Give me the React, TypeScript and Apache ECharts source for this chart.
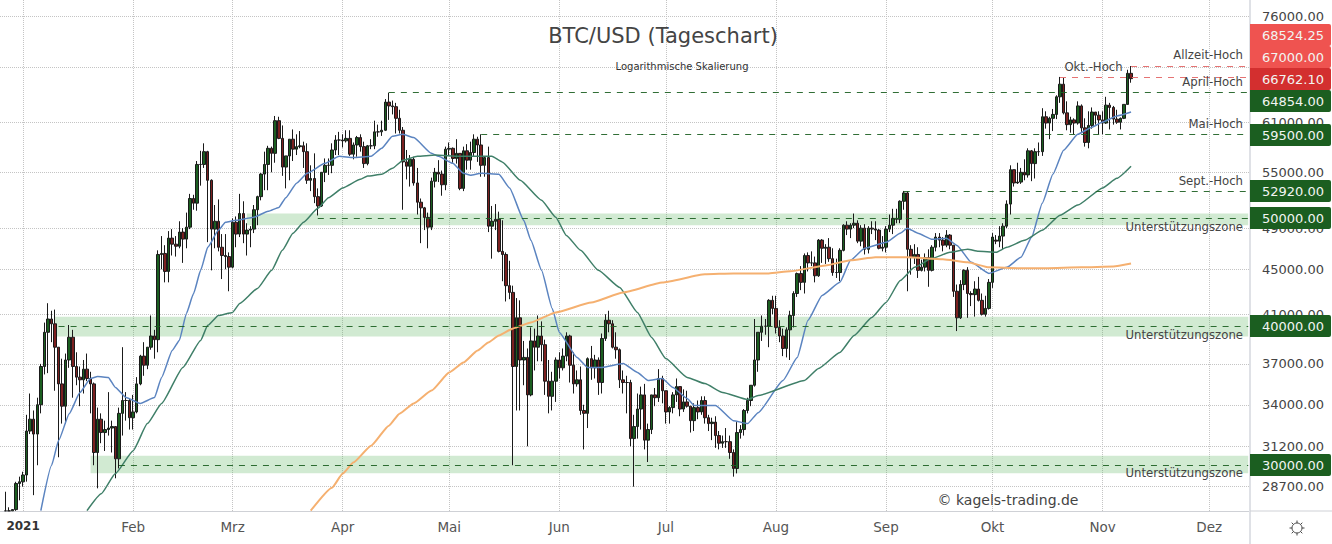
import React, { useEffect, useRef } from "react";
import * as echarts from "echarts";

const FONT = "'DejaVu Sans', sans-serif";

// [open, close, low, high]
const dec20 = [["-","-","-","-"],[27300,27300,27300,28400],[27300,27300,27300,27500],[27300,27370,27300,27400],[27370,28890,27300,28990],[28890,28990,27900,29300]];
const jan21 = [[28990,29400,28700,29600],[29400,32200,29000,33300],[32200,33000,32000,34800],[33000,32000,28200,33600],[32000,34000,30000,34500],[34000,36800,33400,37000],[36800,39500,36200,40300],[39500,40600,36300,41950],[40600,40200,38700,41300],[40200,38300,35000,41400],[38300,35500,30500,38300],[35500,33900,32700,37400],[33900,37300,32700,37800],[37300,39100,36700,40100],[39100,36800,34500,39700],[36800,36000,35400,37900],[36000,35800,33900,36800],[35800,36600,34800,37300],[36600,35900,35700,37800],[35900,35500,33400,36400],[35500,30800,30000,35600],[30800,33000,28600,33800],[33000,32100,31400,33400],[32100,32300,30900,32900],[32300,32400,31900,34900],[32400,32500,30800,32900],[32500,30400,29200,32500],[30400,33400,29800,33800],[33400,34300,31900,38300],[34300,34300,32900,34900],[34300,33100,32300,34400]];
const feb21 = [[33100,33500,32300,34700],[33500,35500,33400,36000],[35500,37600,35400,37700],[37600,36900,36100,38700],[36900,38300,36600,38300],[38300,39200,38100,40900],[39200,38900,37400,39700],[38900,46400,37900,46800],[46400,46500,45000,48200],[46500,44800,43800,47300],[44800,48000,43800,48700],[48000,47400,46300,48900],[47400,47200,46200,48200],[47200,48600,47000,49700],[48600,47900,45600,49000],[47900,49100,47000,50600],[49100,52100,48900,52600],[52100,51600,50900,52500],[51600,55900,50800,56300],[55900,55900,53500,57500],[55900,57400,55500,58400],[57400,54100,47600,57500],[54100,48900,44900,54200],[48900,49700,47000,51400],[49700,47100,46700,52000],[47100,46300,44100,48400],[46300,46200,45000,48400],[46200,45200,43000,46600]];
const mar21 = [[45200,49600,45100,50000],[49600,48400,47100,50200],[48400,50500,48100,52600],[50500,48400,47500,51800],[48400,48800,46300,49500],[48800,48900,47100,49200],[48900,50900,48500,51400],[50900,52300,49300,52400],[52300,54800,51900,54900],[54800,55900,53000,57400],[55900,57800,53000,58100],[57800,57200,55000,58000],[57200,61200,56100,61800],[61200,59000,58900,61700],[59000,55600,54600,60600],[55600,56900,53200,56900],[56900,58900,54100,58900],[58900,57700,56300,60100],[57700,58000,57000,59500],[58000,58100,57800,59900],[58100,57400,55500,58600],[57400,54100,53700,58400],[54100,54300,52900,55800],[54300,52300,51600,57200],[52300,51300,50300,53200],[51300,55000,51200,55000],[55000,55800,53900,56600],[55800,55800,54700,56600],[55800,57600,54900,58400],[57600,58800,57000,59400],[58800,58800,57000,59800]];
const apr21 = [[58800,58700,57900,59500],[58700,59000,58500,60000],[59000,57100,56900,60000],[57100,58200,56500,58500],[58200,59100,56800,59300],[59100,58000,57400,59500],[58000,56000,55500,58600],[56000,58100,55800,58200],[58100,58100,57700,58900],[58100,59800,57700,61200],[59800,59800,59200,60700],[59800,60000,59300,61200],[60000,63600,59900,64000],[63600,63100,61300,64854],[63100,63000,62000,63800],[63000,61500,59600,63500],[61500,60000,59600,62600],[60000,56200,50900,60400],[56200,55700,54200,57600],[55700,56500,53400,57000],[56500,53800,53500,56800],[53800,51700,50400,55500],[51700,51100,47500,52100],[51100,50100,48800,51200],[50100,49100,47000,50600],[49100,54000,48800,54400],[54000,55000,53300,55500],[55000,54800,53900,56400],[54800,53600,52400,55200],[53600,57700,53000,58000]];
const may21 = [[57700,57800,56900,58500],[57800,56600,56100,57900],[56600,57200,56000,58900],[57200,53200,53000,57200],[53200,57500,52900,58000],[57500,56400,55300,58300],[56400,57300,55300,58600],[57300,58900,56900,59500],[58900,58200,56200,59200],[58200,55800,54500,59500],[55800,56700,54500,56800],[56700,49200,48600,58000],[49200,49700,46000,51300],[49700,49900,48800,51500],[49900,46700,46600,50700],[46700,46400,43900,49800],[46400,43500,42100,46600],[43500,42900,42300,45800],[42900,36800,30000,43500],[36800,40700,33600,42400],[40700,37300,33600,42200],[37300,37500,35400,38800],[37500,34700,31200,38200],[34700,38800,34600,39900],[38800,38300,36500,39800],[38300,39200,37200,40900],[39200,38500,37200,40400],[38500,35700,34700,38900],[35700,34600,33400,37300],[34600,35700,33600,36400],[35700,37300,34200,37500]];
const jun21 = [[37300,36700,35900,37900],[36700,37600,36500,38200],[37600,39200,37200,39500],[39200,36900,35600,39300],[36900,35500,34800,37900],[35500,35800,35300,36500],[35800,33600,33300,36800],[33600,33400,31000,34000],[33400,37400,32400,37500],[37400,36700,35800,38400],[36700,37300,35900,37700],[37300,35600,34700,37500],[35600,39000,34800,39400],[39000,40500,38800,41000],[40500,40200,39500,41300],[40200,38300,38200,40500],[38300,38100,37400,39500],[38100,35800,35200,38200],[35800,35600,34800,36500],[35600,35600,33400,36100],[35600,31700,31200,35800],[31700,32500,28700,33300],[32500,33700,31700,34800],[33700,34700,32300,35300],[34700,31600,31000,35500],[31600,32300,30200,32700],[32300,34700,32000,34700],[34700,34500,33900,35200],[34500,35900,34200,36600],[35900,35000,34100,36100]];
const jul21 = [[35000,33500,32700,35000],[33500,33800,32700,33900],[33800,34700,33400,34900],[34700,35300,34200,35900],[35300,33700,33200,35300],[33700,34200,33500,35100],[34200,33900,33800,35000],[33900,32900,32100,33900],[32900,33800,32200,34100],[33800,33500,33000,34300],[33500,34300,33300,34600],[34300,33100,32700,34600],[33100,32700,32200,33300],[32700,32800,31600,33100],[32800,31900,31100,33200],[31900,31400,31000,32200],[31400,31500,31100,31900],[31500,31500,31100,32400],[31500,30800,30400,31900],[30800,29800,29300,31000],[29800,32100,29500,32800],[32100,32300,31700,32600],[32300,33600,31900,33700],[33600,34300,33400,34500],[34300,35400,33900,35400],[35400,37300,35300,40600],[37300,39500,36400,39500],[39500,40000,38800,40900],[40000,40000,39300,40600],[40000,42200,38300,42300],[42200,41500,41000,42600]];
const aug21 = [[41500,39900,39400,42600],[39900,39200,38700,40500],[39200,38200,37600,39800],[38200,39700,37500,39900],[39700,40900,37300,41300],[40900,42800,39900,43000],[42800,44600,42500,44700],[44600,43800,43100,45300],[43800,46300,42800,46500],[46300,45600,44800,46600],[45600,45600,45300,46700],[45600,44400,43800,46200],[44400,47800,44300,47900],[47800,47000,45600,47900],[47000,47100,45500,47400],[47100,46000,45700,48000],[46000,44700,44400,47000],[44700,44700,44200,46000],[44700,46800,43900,47000],[46800,49300,46700,49400],[49300,48900,48300,49700],[48900,49300,48000,49500],[49300,49500,49000,50500],[49500,47700,47500,49800],[47700,49000,47200,49300],[49000,46900,46400,49400],[46900,49000,46500,49200],[49000,48900,48400,49700],[48900,48800,47800,49700],[48800,47000,46900,48900],[47000,47100,46700,48200]];
const sep21 = [[47100,48900,46600,49200],[48900,49300,48600,50400],[49300,50000,48400,51000],[50000,49900,49500,51000],[49900,51800,49500,51900],[51800,52700,50900,52920],[52700,46900,43000,52900],[46900,46100,44500,47300],[46100,46400,45500,47400],[46400,44900,44200,47100],[44900,45200,44800,45900],[45200,46100,44800,46500],[46100,44900,43400,46900],[44900,47100,44800,47300],[47100,48100,46700,48500],[48100,47800,47100,48500],[47800,47300,46700,48100],[47300,48300,47100,48800],[48300,47300,46900,48400],[47300,43000,42500,47300],[43000,40700,39600,43600],[40700,43600,40600,44000],[43600,44900,43100,45000],[44900,42800,40700,45200],[42800,42700,41700,43000],[42700,43200,40800,43900],[43200,42200,42100,44300],[42200,41000,40900,42800],[41000,41500,40800,42600],[41500,43800,41400,44100]];
const oct21 = [[43800,48100,43300,48500],[47800,47700,47400,48300],[47700,48200,47100,49200],[48200,49200,46900,49500],[49200,51500,49000,51900],[51500,55300,50400,55800],[55300,53800,53400,55300],[53800,53900,53700,56100],[53900,55000,53700,55500],[55000,54700,54100,56500],[54700,57500,54400,57800],[57500,56000,54000,57600],[56000,57400,54300,57800],[57400,57400,56900,58500],[57400,61700,56900,62800],[61700,60900,60200,62400],[60900,61500,58900,61700],[61500,62000,59900,62700],[62000,64300,61400,64500],[64300,66000,63500,67000],[66000,62200,62000,66900],[62200,60700,60000,63700],[60700,61300,59700,61700],[61300,60900,59500,61500],[60900,63100,60700,63700],[63100,60300,59800,63300],[60300,58500,58000,61500],[58500,60600,57800,62400],[60600,62300,60200,62900],[62300,61900,60700,62300],[61900,61300,59500,62400]];
const nov21 = [[61300,60900,59500,62400],[60900,63200,60800,64300],[63200,62900,60100,63500],[62900,61400,60700,63100],[61400,61000,60800,62600],[61000,61500,60100,61600],[61500,63300,61400,63300],[63300,67500,63300,68000],[67500,66762.1,66200,68524.25]];

const sma20 = [["01-06",27310],["01-09",29980],["01-11",31570],["01-14",33380],["01-17",34870],["01-20",35900],["01-22",36050],["01-25",35980],["01-27",35230],["01-30",34510],["02-03",34090],["02-07",34510],["02-09",35980],["02-12",38040],["02-14",38840],["02-16",41070],["02-18",42800],["02-20",44900],["02-22",47090],["02-25",48780],["02-27",49600],["03-02",49800],["03-07",50120],["03-11",50740],["03-14",51150],["03-16",52190],["03-19",53780],["03-22",54890],["03-27",56030],["03-31",56850],["04-04",56700],["04-09",56850],["04-12",57800],["04-15",59250],["04-18",59500],["04-21",59100],["04-26",57200],["04-28",56850],["05-02",56030],["05-05",54890],["05-07",54680],["05-10",54890],["05-15",54780],["05-18",53250],["05-22",49800],["05-24",47780],["05-27",44900],["05-30",41500],["06-01",39490],["06-06",37490],["06-09",36730],["06-13",36730],["06-19",37030],["06-23",36350],["06-26",35750],["06-30",35900],["07-03",35230],["07-07",34440],["07-09",33950],["07-15",33950],["07-20",32900],["07-24",32700],["07-27",33450],["08-03",35750],["08-07",37490],["08-10",40480],["08-14",42630],["08-19",43800],["08-22",45840],["08-26",47000],["09-01",47580],["09-05",48480],["09-07",49000],["09-10",48480],["09-14",47880],["09-18",47980],["09-21",47280],["09-25",45650],["09-30",44620],["10-05",45180],["10-09",46130],["10-12",48080],["10-15",51600],["10-18",54780],["10-21",57570],["10-25",59500],["10-29",60380],["11-01",61020],["11-05",61800],["11-09",62300]];
const sma50 = [["01-19",27310],["01-23",28280],["01-27",29490],["02-01",30920],["02-05",32700],["02-09",34090],["02-15",36730],["02-20",38840],["02-22",40070],["02-25",40900],["03-01",41160],["03-03",41930],["03-08",43250],["03-12",44900],["03-15",46800],["03-18",48480],["03-21",49600],["03-25",51050],["03-28",52190],["04-01",53250],["04-06",54210],["04-08",54570],["04-12",54780],["04-15",55450],["04-18",56390],["04-22",56850],["04-27",57000],["05-04",56850],["05-13",56850],["05-16",56170],["05-21",54100],["05-27",51910],["05-31",50120],["06-03",48270],["06-07",46800],["06-12",44900],["06-18",43340],["06-23",41160],["06-27",39080],["07-01",37410],["07-07",35980],["07-12",35520],["07-17",34870],["07-24",34370],["07-27",34650],["08-09",35750],["08-13",36650],["08-19",37880],["08-23",39240],["08-28",40730],["09-01",42010],["09-05",43970],["09-09",45180],["09-14",46030],["09-19",46610],["09-24",46900],["09-27",46700],["10-02",46610],["10-05",47090],["10-10",47780],["10-15",48780],["10-20",50320],["10-25",51390],["11-01",53250],["11-05",54320],["11-09",55700]];
const sma200 = [["03-23",27310],["03-29",28640],["04-01",29490],["04-04",30170],["04-09",31240],["04-14",32560],["04-17",33380],["04-21",34090],["04-26",35010],["05-01",36350],["05-05",37100],["05-09",38040],["05-12",38680],["05-15",39240],["05-19",39820],["05-24",40310],["05-31",41160],["06-10",42010],["06-19",42890],["06-30",43780],["07-12",44530],["07-20",44620],["07-30",44620],["08-05",44810],["08-15",45360],["08-22",45840],["08-29",46130],["09-07",46130],["09-17",45940],["09-24",45650],["09-30",45180],["10-09",45090],["10-16",45090],["10-26",45180],["11-04",45270],["11-09",45550]];

const priceLabels = [76000, 61000, 55000, 49000, 45000, 41000, 37000, 34000, 31200, 28700];
const hiddenGridPrice = [68400];
const monthNames = ["2021", "Feb", "Mrz", "Apr", "Mai", "Jun", "Jul", "Aug", "Sep", "Okt", "Nov", "Dez"];
const greenLevels = [["04-14", 64854], ["05-10", 59500], ["09-06", 52920], ["03-25", 50000], ["01-11", 40000], ["01-28", 30000]];
const redLevels = [["10-20", 67000], ["11-09", 68524.25]];
const zones = [["03-05", 50500, 49300], ["01-10", 40800, 39150], ["01-20", 30600, 29500]];
const tagTexts = ["68524.25", "67000.00", "66762.10", "64854.00", "59500.00", "52920.00", "50000.00", "40000.00", "30000.00"];
const noteTexts = ["Allzeit-Hoch", "April-Hoch", "Mai-Hoch", "Sept.-Hoch", "Unterstützungszone", "Unterstützungszone", "Unterstützungszone"];

const GREEN = "#1b5e20";
const tagColors = ["#ef5350", "#ef5350", "#d32f2f", GREEN, GREEN, GREEN, GREEN, GREEN, GREEN];
const tagCentres = [35, 57, 79, 101, 135, 191, 218, 326, 465];
const noteCentres = [55, 82, 124, 181, 227, 335, 473];

const categories: string[] = [];
for (let t = Date.UTC(2020, 11, 26); t <= Date.UTC(2021, 11, 12); t += 86400000) {
  categories.push(new Date(t).toISOString().slice(0, 10));
}
const d = (md: string) => "2021-" + md;
const lastCat = categories[categories.length - 1];
const candles = [...dec20, ...jan21, ...feb21, ...mar21, ...apr21, ...may21, ...jun21, ...jul21, ...aug21, ...sep21, ...oct21, ...nov21];
const isMonthStart = (_: number, v: string) => v.slice(8) === "01";

const lineSeries = (points: (string | number)[][], color: string, width: number) => ({
  type: "line",
  data: points.map((p) => [d(p[0] as string), p[1]]),
  showSymbol: false,
  smooth: 0.15,
  smoothMonotone: "x",
  z: 3,
  silent: true,
  lineStyle: { color, width },
});

const gearRays = [0, 45, 90, 135, 180, 225, 270, 315].map((deg) => {
  const a = (deg * Math.PI) / 180;
  return {
    type: "line",
    shape: { x1: 1297 + 5 * Math.cos(a), y1: 528 + 5 * Math.sin(a), x2: 1297 + 7.5 * Math.cos(a), y2: 528 + 7.5 * Math.sin(a) },
    style: { stroke: "#444", lineWidth: 1 },
    z: 50,
  };
});

export default function App() {
  const ref = useRef<HTMLDivElement>(null);
  useEffect(() => {
    const chart = echarts.init(ref.current!, undefined, { renderer: "svg" });
    const graphic: any[] = [
      { type: "line", shape: { x1: 1250, y1: 0, x2: 1250, y2: 544 }, style: { stroke: "#dfe1e6", lineWidth: 2 }, z: 40 },
      { type: "line", shape: { x1: 1250, y1: 511, x2: 1332, y2: 511 }, style: { stroke: "#cfd1d6", lineWidth: 1 }, z: 40 },
      { type: "text", x: 663, y: 36, style: { text: "BTC/USD (Tageschart)", font: `21px ${FONT}`, fill: "#444", textAlign: "center", textVerticalAlign: "middle" }, z: 60 },
      { type: "text", x: 682, y: 66, style: { text: "Logarithmische Skalierung", font: `10px ${FONT}`, fill: "#333", textAlign: "center", textVerticalAlign: "middle" }, z: 60 },
      { type: "text", x: 1008, y: 500, style: { text: "© kagels-trading.de", font: `14px ${FONT}`, fill: "#444", textAlign: "center", textVerticalAlign: "middle" }, z: 60 },
      { type: "text", x: 1093.5, y: 67, style: { text: "Okt.-Hoch", font: `11.7px ${FONT}`, fill: "#444", textAlign: "center", textVerticalAlign: "middle" }, z: 60 },
      { type: "circle", shape: { cx: 1297, cy: 528, r: 5 }, style: { stroke: "#444", fill: "none", lineWidth: 1 }, z: 50 },
      ...gearRays,
    ];
    noteTexts.forEach((t, i) => {
      graphic.push({ type: "text", x: 1243, y: noteCentres[i], style: { text: t, font: `11.7px ${FONT}`, fill: "#444", textAlign: "right", textVerticalAlign: "middle" }, z: 60 });
    });
    tagTexts.forEach((t, i) => {
      graphic.push({ type: "rect", shape: { x: 1250, y: tagCentres[i] - 11, width: 81, height: 22, r: [0, 2, 2, 0] }, style: { fill: tagColors[i] }, z: 70 });
      graphic.push({ type: "text", x: 1293, y: tagCentres[i], style: { text: t, font: `13px ${FONT}`, fill: "#f2f5f2", textAlign: "center", textVerticalAlign: "middle" }, z: 71 });
    });

    chart.setOption({
      animation: false,
      backgroundColor: "#fff",
      grid: { left: 0, right: 82, top: 0, bottom: 33 },
      xAxis: {
        type: "category",
        data: categories,
        boundaryGap: true,
        axisLine: { show: true, lineStyle: { color: "#cfd1d6" } },
        axisTick: { show: false },
        axisLabel: {
          interval: isMonthStart,
          color: "#555",
          fontFamily: FONT,
          fontSize: 13.5,
          margin: 9,
          hideOverlap: false,
          formatter: (v: string) => {
            const m = Number(v.slice(5, 7)) - 1;
            return v.startsWith("2021") ? (m === 0 ? `{b|${monthNames[m]}}` : monthNames[m]) : "";
          },
          rich: { b: { fontWeight: "bold", fontFamily: FONT, fontSize: 12, color: "#333" } },
        },
        splitLine: { show: true, interval: isMonthStart, alignWithLabel: true, lineStyle: { color: "#c4c4c4", type: "dotted", width: 1 } },
      },
      yAxis: {
        type: "log",
        logBase: 10,
        min: 27290,
        max: 78560,
        position: "right",
        axisLine: { show: false },
        axisTick: { show: false, customValues: [...priceLabels, ...hiddenGridPrice] },
        axisLabel: { customValues: priceLabels, color: "#444", fontFamily: FONT, fontSize: 13, margin: 12, formatter: (v: number) => Number(v).toFixed(2) },
        splitLine: { show: true, lineStyle: { color: "#c4c4c4", type: "dotted", width: 1 } },
      },
      series: [
        {
          type: "candlestick",
          data: candles,
          barWidth: 3,
          z: 2,
          itemStyle: { color: GREEN, color0: "#7b2020", borderColor: "#1a1a1a", borderColor0: "#1a1a1a", borderWidth: 1 },
          markArea: {
            silent: true,
            itemStyle: { color: "rgba(76,175,80,0.26)" },
            data: zones.map((z) => [{ coord: [d(z[0] as string), z[1]] }, { coord: [lastCat, z[2]] }]),
          },
          markLine: {
            silent: true,
            symbol: "none",
            label: { show: false },
            data: [
              ...greenLevels.map((l) => [
                { coord: [d(l[0] as string), l[1]], lineStyle: { color: GREEN, type: [6, 6], width: 1, opacity: 0.9 } },
                { coord: [lastCat, l[1]] },
              ]),
              ...redLevels.map((l) => [
                { coord: [d(l[0] as string), l[1]], lineStyle: { color: "#e57373", type: [6, 6], width: 1 } },
                { coord: [lastCat, l[1]] },
              ]),
            ],
          },
        },
        lineSeries(sma20, "#5b84c0", 1.5),
        lineSeries(sma50, "#3f7f68", 1.5),
        lineSeries(sma200, "#f5b070", 2),
      ],
      graphic,
    });
    return () => chart.dispose();
  }, []);
  return <div ref={ref} style={{ position: "absolute", left: 0, top: 0, width: 1332, height: 544 }} />;
}
